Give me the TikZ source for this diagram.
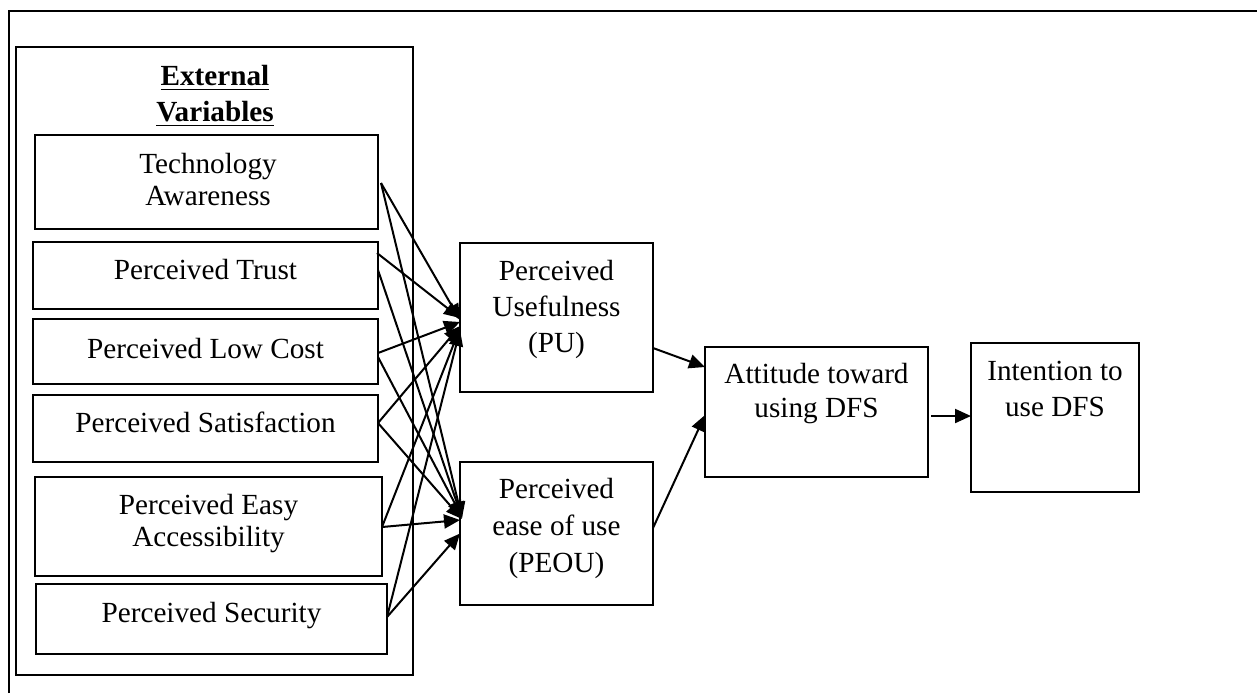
\documentclass[tikz,border=0pt]{standalone}
\usepackage{fontspec}
\setmainfont{Liberation Serif}
\usetikzlibrary{arrows.meta,calc}
\begin{document}
\begin{tikzpicture}[x=0.5pt,y=-0.5pt,
  box/.style n args={2}{draw,line width=1pt,minimum width=#1*0.5pt,minimum height=#2*0.5pt,inner sep=0pt,outer sep=0pt},
  lbl/.style={align=center,inner sep=0pt,font=\fontsize{14.6pt}{#1}\selectfont},
  lbl/.default=16pt,
  arr/.style={line width=1pt,-{Triangle[length=8pt,width=7pt]}},
  frame/.style={line width=1pt}
]
\useasboundingbox (0,0) rectangle (1257,693);
% outer frame (only top and left edges visible)
\coordinate (fbl) at (9,693);
\coordinate (ftl) at (9,11);
\coordinate (ftr) at (1257,11);
\draw[frame] (fbl) -- (ftl) -- (ftr);

% container of external variables
\node[box={397}{628},line width=0.8pt] (ext) at (214.5,361) {};
\node[lbl=18pt,font=\fontsize{14.6pt}{18pt}\selectfont\bfseries] (extt) at (215,96) {\underline{External}\\\underline{Variables}};

% external variable boxes
\node[box={343}{94}] (tech) at (206.5,182) {};
\node[lbl] (techt) at ($(tech.center)+(1.5,-3)$) {Technology\\Awareness};
\node[box={345}{67}] (trust) at (205.5,275.5) {};
\node[lbl] (trustt) at ($(trust.center)+(0,-6.5)$) {Perceived Trust};
\node[box={345}{65}] (cost) at (205.5,351.5) {};
\node[lbl] (costt) at ($(cost.center)+(0,-3.5)$) {Perceived Low Cost};
\node[box={345}{67}] (sat) at (205.5,428.5) {};
\node[lbl] (satt) at ($(sat.center)+(0,-6.5)$) {Perceived Satisfaction};
\node[box={347}{99}] (easy) at (208.5,526.5) {};
\node[lbl] (easyt) at ($(easy.center)+(0,-2.5)$) {Perceived Easy\\Accessibility};
\node[box={351}{70}] (sec) at (211.5,619) {};
\node[lbl] (sect) at ($(sec.center)+(0,-3)$) {Perceived Security};

% TAM constructs
\node[box={193}{149}] (pu) at (556.5,317.5) {};
\node[lbl=18pt] (put) at ($(pu.center)+(0,-8)$) {Perceived\\Usefulness\\(PU)};
\node[box={193}{143}] (peou) at (556.5,533.5) {};
\node[lbl=18.5pt] (peout) at ($(peou.center)+(0,-5.5)$) {Perceived\\ease of use\\(PEOU)};
\node[box={223}{130}] (att) at (816.5,412) {};
\node[lbl=17pt] (attt) at ($(att.center)+(0,-18)$) {Attitude toward\\using DFS};
\node[box={168}{149}] (int) at (1055,417.5) {};
\node[lbl=18pt] (intt) at ($(int.center)+(0,-28.5)$) {Intention to\\use DFS};

% arrows to PU
\draw[arr] ($(tech.east)+(3,1)$) -- ($(pu.west)+(0,2.5)$);
\draw[arr] ($(trust.east)+(-1,-22.5)$) -- ($(pu.west)+(0,0.5)$);
\draw[arr] ($(cost.east)+(0,1.5)$) -- ($(pu.west)+(0,4.5)$);
\draw[arr] ($(sat.east)+(0,-5.5)$) -- ($(pu.west)+(0,8.5)$);
\draw[arr] ($(easy.east)+(0,0.5)$) -- ($(pu.west)+(0,10.5)$);
\draw[arr] ($(sec.east)+(0,-2)$) -- ($(pu.west)+(0,12.5)$);
% arrows to PEOU
\draw[arr] ($(tech.east)+(3,1)$) -- ($(peou.west)+(2,-15.5)$);
\draw[arr] ($(trust.east)+(0,-5.5)$) -- ($(peou.west)+(2,-15.5)$);
\draw[arr] ($(cost.east)+(0,5.5)$) -- ($(peou.west)+(2,-16.5)$);
\draw[arr] ($(sat.east)+(0,-5.5)$) -- ($(peou.west)+(2,-14.5)$);
\draw[arr] ($(easy.east)+(0,0.5)$) -- ($(peou.west)+(0,-13.5)$);
\draw[arr] ($(sec.east)+(0,-2)$) -- ($(peou.west)+(0,0)$);
% TAM arrows
\draw[arr] ($(pu.east)+(0,30.5)$) -- ($(att.west)+(0,-45)$);
\draw[arr] ($(peou.east)+(0,-5.5)$) -- ($(att.west)+(0,3)$);
\draw[arr] ($(att.east)+(3,4)$) -- ($(int.west)+(0,-1.5)$);
\end{tikzpicture}
\end{document}
